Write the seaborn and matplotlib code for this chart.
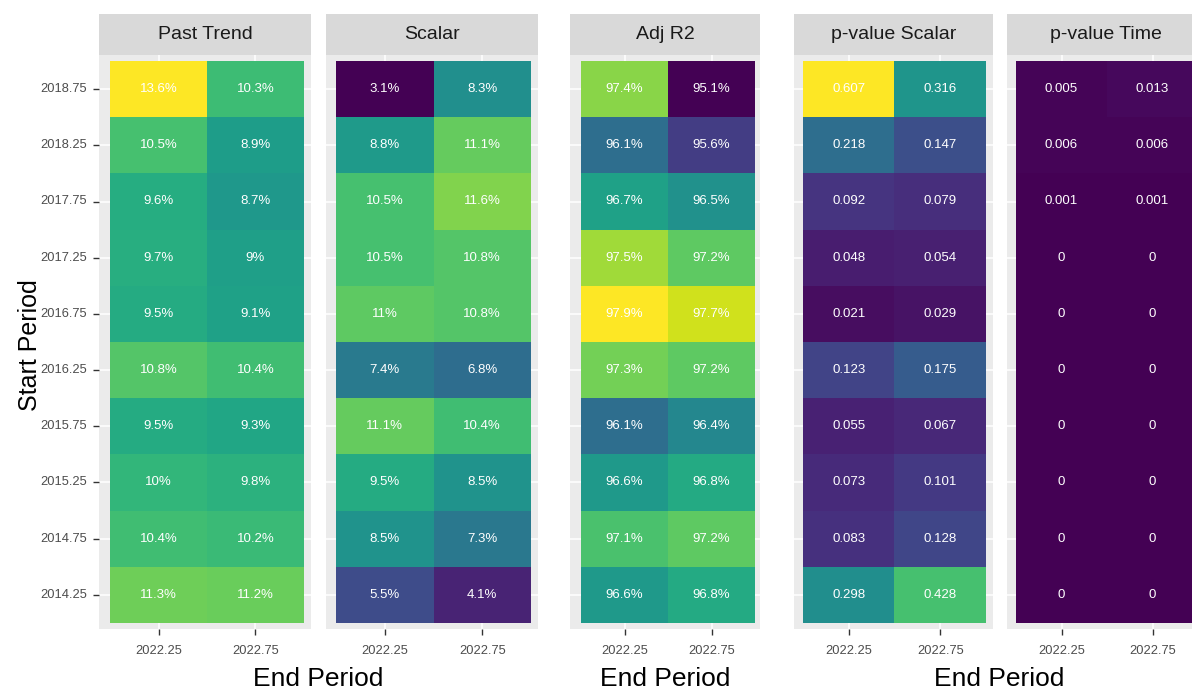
import matplotlib
matplotlib.use('Agg')
from matplotlib import pyplot as plt
import seaborn as sns
import numpy as np
import pandas as pd

start_periods = ['2018.75', '2018.25', '2017.75', '2017.25', '2016.75',
                 '2016.25', '2015.75', '2015.25', '2014.75', '2014.25']
end_periods = ['2022.25', '2022.75']

past_trend_2022_25 = [13.6, 10.5, 9.6, 9.7, 9.5, 10.8, 9.5, 10, 10.4, 11.3]
past_trend_2022_75 = [10.3, 8.9, 8.7, 9, 9.1, 10.4, 9.3, 9.8, 10.2, 11.2]
scalar_2022_25 = [3.1, 8.8, 10.5, 10.5, 11, 7.4, 11.1, 9.5, 8.5, 5.5]
scalar_2022_75 = [8.3, 11.1, 11.6, 10.8, 10.8, 6.8, 10.4, 8.5, 7.3, 4.1]
adj_r2_2022_25 = [97.4, 96.1, 96.7, 97.5, 97.9, 97.3, 96.1, 96.6, 97.1, 96.6]
adj_r2_2022_75 = [95.1, 95.6, 96.5, 97.2, 97.7, 97.2, 96.4, 96.8, 97.2, 96.8]
p_scalar_2022_25 = [0.607, 0.218, 0.092, 0.048, 0.021, 0.123, 0.055, 0.073, 0.083, 0.298]
p_scalar_2022_75 = [0.316, 0.147, 0.079, 0.054, 0.029, 0.175, 0.067, 0.101, 0.128, 0.428]
p_time_2022_25 = [0.005, 0.006, 0.001, 0, 0, 0, 0, 0, 0, 0]
p_time_2022_75 = [0.013, 0.006, 0.001, 0, 0, 0, 0, 0, 0, 0]

sns.set_theme(style='white')
plt.rcParams['font.family'] = ['Liberation Sans', 'DejaVu Sans']

W, H = 1192, 687
fig = plt.figure(figsize=(W / 100, H / 100), dpi=100)


def box(x0, y0, x1, y1):
    return [x0 / W, 1 - y1 / H, (x1 - x0) / W, (y1 - y0) / H]


pct_range = (3.1, 13.6)
r2_range = (95.1, 97.9)
p_range = (0, 0.607)

# title, col a, col b, colour range, percent?, panel px (left, right), tiles px (left, right)
panels = [
    ('Past Trend', past_trend_2022_25, past_trend_2022_75, pct_range, True, (99, 311), (110, 304)),
    ('Scalar', scalar_2022_25, scalar_2022_75, pct_range, True, (326, 538), (336, 531)),
    ('Adj R2', adj_r2_2022_25, adj_r2_2022_75, r2_range, True, (570, 760), (581, 755)),
    ('p-value Scalar', p_scalar_2022_25, p_scalar_2022_75, p_range, False, (794, 993), (803, 986)),
    ('p-value Time', p_time_2022_25, p_time_2022_75, p_range, False, (1007, 1205), (1016, 1198)),
]

top, bottom = 55, 629
tile_top, tile_bottom = 61, 623
row_h = (tile_bottom - tile_top) / len(start_periods)
for i, (name, a, b, rng, pct, (p0, p1), (t0, t1)) in enumerate(panels):
    df = pd.DataFrame({end_periods[0]: a, end_periods[1]: b}, index=start_periods)
    labels = df.map(lambda v: f'{v:g}%' if pct else f'{v:g}')
    ax = fig.add_axes(box(p0, top, p1, bottom))
    sns.heatmap(df, ax=ax, cmap='viridis', vmin=rng[0], vmax=rng[1], cbar=False,
                annot=labels, fmt='', linewidths=0,
                annot_kws=dict(color='white', size=9.5))
    ax.set_facecolor('#EBEBEB')
    tw = (t1 - t0) / 2
    ax.set_xlim(-(t0 - p0) / tw, 2 + (p1 - t1) / tw)
    ax.set_ylim(10 + (bottom - tile_bottom) / row_h, -(tile_top - top) / row_h)
    ax.set_axisbelow(True)
    ax.grid(True, color='white', lw=1.1)
    for s in ax.spines.values():
        s.set_visible(False)
    ax.set_xticks([0.5, 1.5])
    ax.set_xticklabels(end_periods, rotation=0, fontsize=9.3, color='#4D4D4D')
    ax.set_yticks(np.arange(len(start_periods)) + 0.5)
    ax.set_yticklabels(start_periods, rotation=0, fontsize=9.3, color='#4D4D4D')
    ax.set_xlabel('')
    ax.set_ylabel('')
    ax.tick_params(axis='x', length=4.3, width=1, color='#333333', pad=7, bottom=True)
    if i == 0:
        ax.tick_params(axis='y', length=4.3, width=1, color='#333333', pad=4.3, left=True)
    else:
        ax.tick_params(axis='y', length=0, labelleft=False)

    strip = fig.add_axes(box(p0, 14, p1, top))
    strip.set_facecolor('#D9D9D9')
    strip.set_xticks([])
    strip.set_yticks([])
    for s in strip.spines.values():
        s.set_visible(False)
    strip.text(0.5, 0.5, name, ha='center', va='center', fontsize=14,
               color='#1A1A1A', transform=strip.transAxes)

fig.text(30 / W, 1 - 345 / H, 'Start Period', rotation=90, ha='center', va='center',
         fontsize=18, color='black')
for cx in [(99 + 538) / 2, (570 + 760) / 2, (794 + 1205) / 2]:
    fig.text(cx / W, 1 - 686 / H, 'End Period', ha='center', va='baseline',
             fontsize=19, color='black')

fig.savefig('out.png', dpi=100)
